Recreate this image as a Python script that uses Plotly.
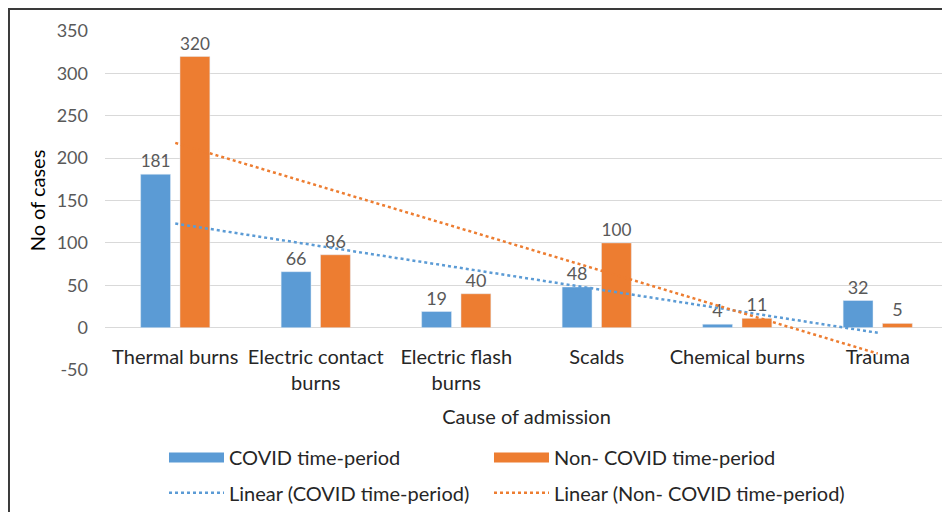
import numpy as np
import plotly.graph_objects as go

categories = ["Thermal burns", "Electric contact<br>burns", "Electric flash<br>burns",
              "Scalds", "Chemical burns", "Trauma"]
covid = [181, 66, 19, 48, 4, 32]
non_covid = [320, 86, 40, 100, 11, 5]
y_ticks = [-50, 0, 50, 100, 150, 200, 250, 300, 350]
y_tick_labels = ["-50", "0", "50", "100", "150", "200", "250", "300", "350"]

BLUE = "#5B9BD5"
ORANGE = "#ED7D31"
FONT = "Lato, 'Open Sans', sans-serif"

# Excel-style linear trendlines (least squares over category index 1..n)
xi = np.arange(1, len(categories) + 1)
c_fit = np.polyval(np.polyfit(xi, covid, 1), xi)
n_fit = np.polyval(np.polyfit(xi, non_covid, 1), xi)

label_font = dict(color="#595959", size=18, family=FONT)

fig = go.Figure()
fig.add_trace(go.Bar(x=categories, y=covid, name="COVID time-period", marker_color=BLUE,
                     text=covid, textposition="outside", cliponaxis=False,
                     textfont=label_font, showlegend=False))
fig.add_trace(go.Bar(x=categories, y=non_covid, name="Non- COVID time-period", marker_color=ORANGE,
                     text=non_covid, textposition="outside", cliponaxis=False,
                     textfont=label_font, showlegend=False))
fig.add_trace(go.Scatter(x=categories, y=c_fit, mode="lines", name="Linear (COVID time-period)",
                         line=dict(color=BLUE, width=2.5, dash="dot"), legend="legend3", cliponaxis=False))
fig.add_trace(go.Scatter(x=categories, y=n_fit, mode="lines", name="Linear (Non- COVID time-period)",
                         line=dict(color=ORANGE, width=2.5, dash="dot"), legend="legend4", cliponaxis=False))
# legend swatches for the bar series (wide rectangles as in the original)
fig.add_trace(go.Scatter(x=[None], y=[None], mode="lines", name="COVID time-period",
                         line=dict(color=BLUE, width=11), legend="legend"))
fig.add_trace(go.Scatter(x=[None], y=[None], mode="lines", name="Non- COVID time-period",
                         line=dict(color=ORANGE, width=11), legend="legend2"))

leg_common = dict(orientation="h", xref="container", yref="container", xanchor="left", yanchor="top",
                  itemwidth=55, bgcolor="rgba(0,0,0,0)",
                  font=dict(size=20, color="#262626", family=FONT))
COL1, COL2 = 0.1656, 0.5106
ROW1, ROW2 = 0.147, 0.077

fig.update_layout(
    width=942, height=504,
    margin=dict(l=97, r=2, t=23, b=142, autoexpand=False),
    paper_bgcolor="white", plot_bgcolor="white",
    font=dict(family=FONT, color="#262626"),
    barmode="group", bargap=0.44, bargroupgap=0.24,
    xaxis=dict(anchor="free", position=0.125, showline=False, ticks="", automargin=False,
               tickfont=dict(size=20, color="#262626", family=FONT), ticklabelstandoff=15,
               title=dict(text="Cause of admission", font=dict(size=20, color="#262626", family=FONT),
                          standoff=17)),
    yaxis=dict(range=[-50, 350], tickvals=y_ticks, ticktext=y_tick_labels,
               showgrid=True, gridcolor="#D9D9D9", gridwidth=1,
               zeroline=True, zerolinecolor="#D9D9D9", zerolinewidth=1, showline=False, automargin=False,
               ticks="", tickfont=dict(size=18, color="#595959", family=FONT), ticklabelstandoff=16,
               title=dict(text="No of cases", font=dict(size=20, color="#000000", family=FONT),
                          standoff=5)),
    legend=dict(x=COL1, y=ROW1, **leg_common),
    legend2=dict(x=COL2, y=ROW1, **leg_common),
    legend3=dict(x=COL1, y=ROW2, **leg_common),
    legend4=dict(x=COL2, y=ROW2, **leg_common),
    shapes=[dict(type="rect", xref="paper", yref="paper",
                 x0=-0.1139, x1=1.2, y0=-1.0, y1=1.0649,
                 line=dict(color="#3A3A3A", width=2), fillcolor="rgba(0,0,0,0)", layer="above")],
)

fig.write_html("out.html")
